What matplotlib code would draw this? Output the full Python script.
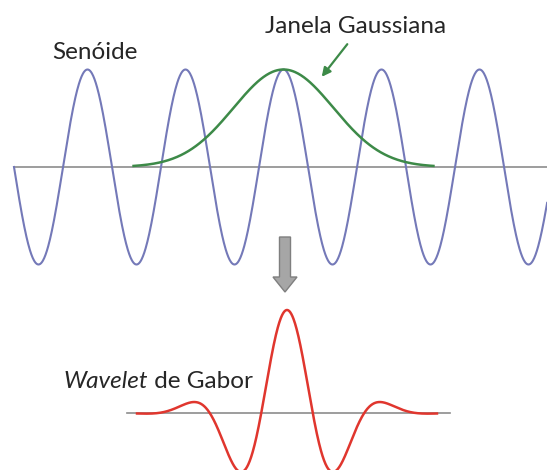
import numpy as np
import matplotlib.pyplot as plt
from matplotlib.patches import FancyArrow

plt.rcParams['font.family'] = ['Lato', 'DejaVu Sans']

# sinusoid (x in periods, y in amplitude units)
sine_cycles = 5.44
sine_amp = 1.0
# gaussian window over the sinusoid
gauss_center = 2.75
gauss_sigma = 0.51
gauss_halfspan = 1.53
# gabor wavelet (x in periods of its carrier)
gabor_sigma = 0.447
gabor_halfspan = 1.456
gabor_base = [-1.55, 1.58]

labels = {"sine": "Senóide", "window": "Janela Gaussiana",
          "wavelet_it": "Wavelet", "wavelet_rest": " de Gabor"}

BLUE = "#7479b8"
GREEN = "#3d8a48"
RED = "#e0362e"
GRAY = "#8c8c8c"
TXT = "#262626"

W, H = 547, 470
fig = plt.figure(figsize=(W / 100, H / 100), dpi=100)

# top: sine + gaussian window
ax1 = fig.add_axes([0, 1 - 300 / H, 1, 300 / H])
t = np.linspace(0, sine_cycles, 1200)
ax1.plot([0, sine_cycles], [0, 0], color=GRAY, lw=1.2, zorder=0)
ax1.plot(t, -sine_amp * np.sin(2 * np.pi * t), color=BLUE, lw=1.5)
g = np.linspace(gauss_center - gauss_halfspan, gauss_center + gauss_halfspan, 400)
ax1.plot(g, np.exp(-(g - gauss_center) ** 2 / (2 * gauss_sigma ** 2)), color=GREEN, lw=1.8)
ax1.set_xlim(-14 / 98, 533 / 98)
ax1.set_ylim(-133 / 97.5, 167 / 97.5)
ax1.axis("off")

# bottom: gabor wavelet
ax2 = fig.add_axes([0, 0, 1, 170 / H])
u = np.linspace(-gabor_halfspan, gabor_halfspan, 800)
ax2.plot(gabor_base, [0, 0], color=GRAY, lw=1.2, zorder=0)
ax2.plot(u, np.cos(2 * np.pi * u) * np.exp(-u ** 2 / (2 * gabor_sigma ** 2)),
         color=RED, lw=1.8, clip_on=False)
ax2.set_xlim(-287 / 103, 260 / 103)
ax2.set_ylim(-57 / 103, 113 / 103)
ax2.axis("off")

# overlay in pixel space for labels and arrows
ov = fig.add_axes([0, 0, 1, 1])
ov.set_xlim(0, W)
ov.set_ylim(H, 0)
ov.axis("off")
ov.patch.set_alpha(0)

ov.text(52, 59, labels["sine"], fontsize=17.5, color=TXT, va="baseline")
ov.text(265, 33, labels["window"], fontsize=17.5, color=TXT, va="baseline")
ov.annotate("", xy=(320, 79), xytext=(349, 42),
            arrowprops=dict(arrowstyle="-|>", color=GREEN, lw=1.6, mutation_scale=13))
wt = ov.text(63, 388, labels["wavelet_it"], fontsize=17.5, style="italic",
             color=TXT, va="baseline")
ov.annotate(labels["wavelet_rest"], xycoords=wt, xy=(1, 0), va="bottom",
            fontsize=17.5, color=TXT)

ov.add_patch(FancyArrow(285, 237, 0, 55, width=11, head_width=24, head_length=15,
                        length_includes_head=True, facecolor="#a6a6a6",
                        edgecolor="#7f7f7f", lw=1))

fig.savefig("out.png", dpi=100)
